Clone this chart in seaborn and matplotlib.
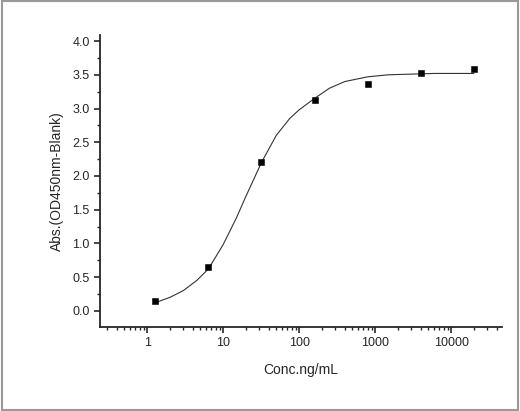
import matplotlib
matplotlib.use('Agg')
from matplotlib import pyplot as plt
from matplotlib.ticker import LogLocator, MultipleLocator
import seaborn as sns
import pandas as pd
import numpy as np

conc = [1.28, 6.4, 32, 160, 800, 4000, 20000]
absorb = [0.14, 0.65, 2.2, 3.13, 3.37, 3.52, 3.59]

# fitted curve
fit_x = [1.28, 2, 3, 4.5, 6.4, 10, 15, 20, 32, 50, 75, 100, 160, 250, 400, 800, 1500, 3000, 6000, 20000]
fit_y = [0.12, 0.2, 0.3, 0.45, 0.62, 0.98, 1.38, 1.7, 2.2, 2.6, 2.85, 2.98, 3.15, 3.3, 3.4, 3.47, 3.5, 3.51, 3.52, 3.52]

pts = pd.DataFrame({'conc': conc, 'abs': absorb})
fit = pd.DataFrame({'conc': fit_x, 'abs': fit_y})

sns.set_style('ticks')
plt.rcParams['font.family'] = ['Liberation Sans', 'DejaVu Sans']
fig = plt.figure(figsize=(5.2, 4.11), dpi=100)
ax = fig.add_axes([100/520, 84/411, 402/520, 292/411])
sns.lineplot(data=fit, x='conc', y='abs', color='#333333', linewidth=0.8, ax=ax)
sns.scatterplot(data=pts, x='conc', y='abs', marker='s', color='black', s=25, edgecolor='black', ax=ax, zorder=3)
ax.set_xscale('log')
ax.set_xlim(0.24, 46800)
ax.set_ylim(-0.24, 4.09)
ax.set_xticks([1, 10, 100, 1000, 10000])
ax.set_xticklabels(['1', '10', '100', '1000', '10000'])
ax.xaxis.set_minor_locator(LogLocator(base=10, subs=np.arange(2, 10)))
ax.yaxis.set_major_locator(MultipleLocator(0.5))
ax.yaxis.set_minor_locator(MultipleLocator(0.25))
ax.yaxis.set_major_formatter(matplotlib.ticker.FormatStrFormatter('%.1f'))
ax.tick_params(which='major', length=4, width=1.2, labelsize=9)
ax.tick_params(which='minor', length=2.5, width=1)
for s in ['left', 'bottom']:
    ax.spines[s].set_linewidth(1.3)
sns.despine(ax=ax)
ax.set_xlabel('Conc.ng/mL', fontsize=10, labelpad=10)
ax.set_ylabel('Abs.(OD450nm-Blank)', fontsize=10, labelpad=6)
fig.patches.append(plt.Rectangle((0.003, 0.003), 0.994, 0.994, transform=fig.transFigure,
                                 fill=False, edgecolor='#999999', linewidth=1.5))
fig.savefig('out.png', dpi=100)
